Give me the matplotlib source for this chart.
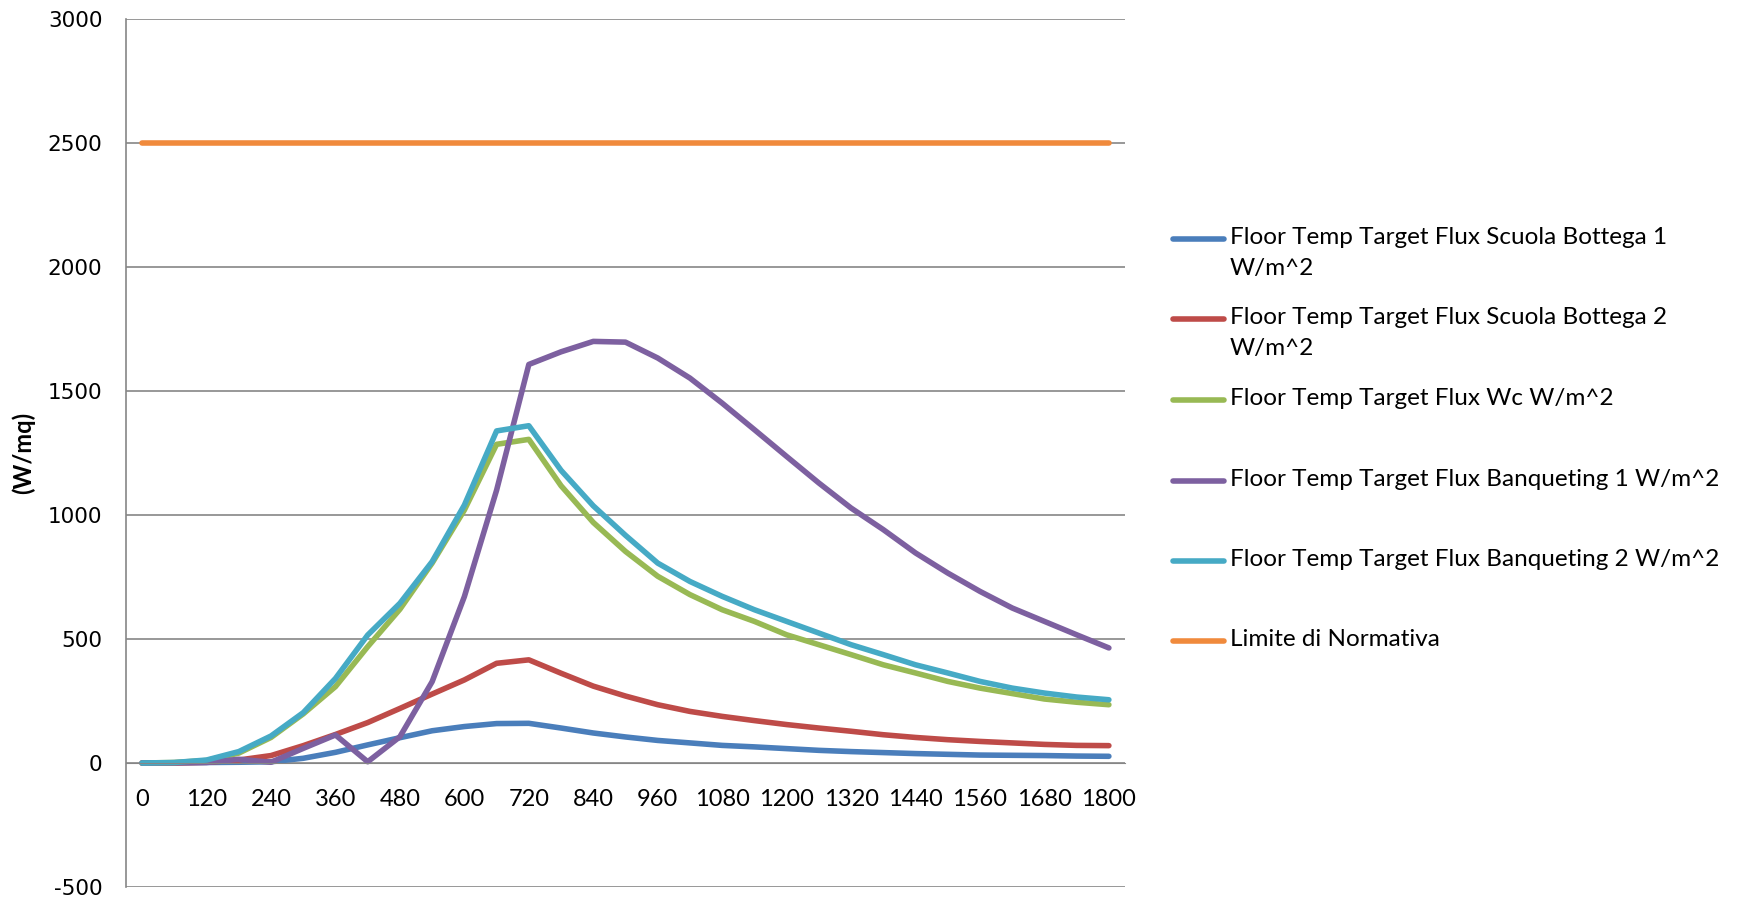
import matplotlib
matplotlib.use('Agg')
import matplotlib.pyplot as plt
from matplotlib.lines import Line2D

plt.rcParams['axes.unicode_minus'] = False

# tempo in secondi (una categoria ogni 60 s)
tempo = [0, 60, 120, 180, 240, 300, 360, 420, 480, 540, 600, 660, 720, 780, 840, 900,
         960, 1020, 1080, 1140, 1200, 1260, 1320, 1380, 1440, 1500, 1560, 1620, 1680, 1740, 1800]

# flussi in W/m^2
scuola_bottega_1 = [0, 1, 2, 3, 5, 19, 43, 73, 102, 130, 147, 159, 160, 141, 121, 105,
                    91, 81, 71, 65, 58, 51, 46, 42, 38, 35, 32, 31, 30, 28, 27]
scuola_bottega_2 = [0, 0, 3, 12, 30, 70, 115, 163, 220, 278, 335, 402, 416, 362, 310, 270,
                    235, 208, 188, 171, 155, 141, 128, 114, 103, 94, 87, 81, 75, 71, 70]
wc = [0, 2, 10, 40, 103, 198, 308, 469, 620, 806, 1020, 1285, 1305, 1118, 970, 853,
      753, 679, 618, 571, 517, 477, 437, 396, 363, 329, 302, 280, 258, 245, 235]
banqueting_1 = [0, 1, 2, 15, 3, 59, 113, 5, 106, 328, 671, 1100, 1607, 1658, 1700, 1697,
                1633, 1552, 1451, 1344, 1236, 1129, 1028, 941, 847, 766, 692, 625, 571, 517, 464]
banqueting_2 = [0, 2, 12, 46, 109, 203, 341, 516, 644, 812, 1040, 1339, 1360, 1180, 1037, 918,
                806, 732, 672, 618, 571, 524, 477, 437, 396, 363, 329, 302, 282, 266, 255]
limite = [2500] * len(tempo)

serie = [scuola_bottega_1, scuola_bottega_2, wc, banqueting_1, banqueting_2, limite]
etichette = ['Floor Temp Target Flux Scuola Bottega 1\nW/m^2',
             'Floor Temp Target Flux Scuola Bottega 2\nW/m^2',
             'Floor Temp Target Flux Wc W/m^2',
             'Floor Temp Target Flux Banqueting 1 W/m^2',
             'Floor Temp Target Flux Banqueting 2 W/m^2',
             'Limite di Normativa']
colori = ['#4A7EBB', '#BE4B48', '#98B954', '#7D60A0', '#46AAC5', '#F08A3C']

W, H = 1739, 898
fig = plt.figure(figsize=(W / 100, H / 100), dpi=100)
ax = fig.add_axes([126 / W, 1 - 887 / H, (1125 - 126) / W, (887 - 19) / H])

for y, c in zip(serie, colori):
    ax.plot(tempo, y, color=c, lw=4, solid_capstyle='round', solid_joinstyle='round')

ax.set_xlim(-30, 1830)
ax.set_ylim(-500, 3000)
ax.set_yticks(range(-500, 3001, 500))
ax.set_xticks(tempo[::2])
ax.yaxis.grid(True, color='#868686', lw=1.2)
ax.set_axisbelow(True)

ax.spines['top'].set_visible(False)
ax.spines['right'].set_visible(False)
ax.spines['bottom'].set_position(('data', 0))
ax.spines['bottom'].set_color('#868686')
ax.spines['left'].set_color('#868686')
ax.spines['left'].set_linewidth(1.2)
ax.tick_params(axis='both', length=0)
ax.tick_params(axis='x', pad=19, labelsize=17)
ax.tick_params(axis='y', pad=17, labelsize=15.5)
for t in ax.get_xticklabels():
    t.set_family('Lato')

ax.set_ylabel('(W/mq)', fontweight='bold', fontsize=17, family='Lato')
ax.yaxis.set_label_coords(-0.091, 0.5)

# legenda a destra, maniglia allineata alla prima riga del testo
riga = [239, 319, 400, 481, 561, 641]
for yy, c, lab in zip(riga, colori, etichette):
    fy = 1 - yy / H
    fig.add_artist(Line2D([1173 / W, 1224 / W], [fy, fy], color=c, lw=4,
                          solid_capstyle='round', transform=fig.transFigure))
    fig.text(1230 / W, 1 - (yy - 12) / H, lab, family='Lato', fontsize=17.5,
             va='top', ha='left', linespacing=1.6)

fig.savefig('out.png', dpi=100)
